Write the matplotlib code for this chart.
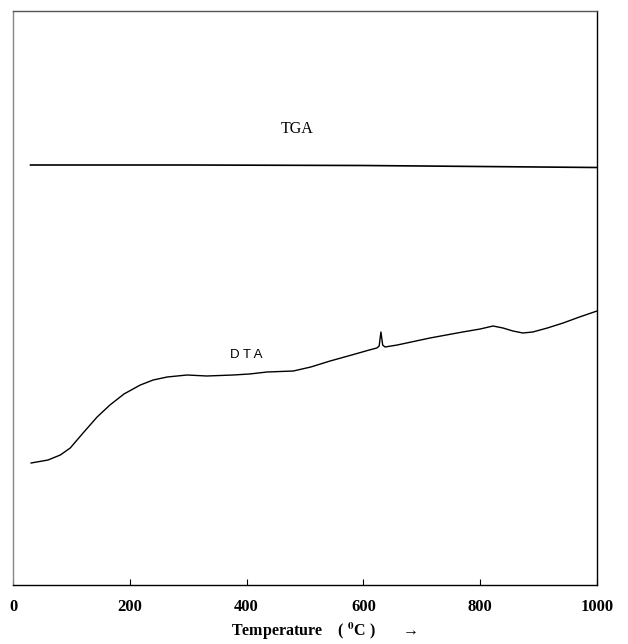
import numpy as np
import matplotlib
matplotlib.use("Agg")
from matplotlib import pyplot as plt

plt.rcParams['font.family'] = ['Liberation Serif', 'DejaVu Serif']
plt.rcParams['mathtext.fontset'] = 'stix'

# TGA trace (temperature in C, signal in arbitrary units)
tga_temp = [30, 300, 600, 800, 1000]
tga_val = [420, 420, 419.5, 418.5, 417.5]

# DTA trace
dta_temp = [31, 60, 81, 98, 120, 144, 166, 190, 218, 240, 264, 298, 332, 377,
            405, 435, 480, 510, 543, 580, 610, 623, 627, 630, 633, 637,
            658, 714, 770, 800, 822, 839, 856, 873, 890, 915, 942, 970, 1000]
dta_val = [122, 125, 130, 137, 152, 168, 180, 191, 200, 205, 208, 210, 209,
           210, 211, 213, 214, 218, 224, 230, 235, 237, 239, 253, 240, 238,
           240, 247, 253, 256, 259, 257, 254, 252, 253, 257, 262, 268, 274]

fig = plt.figure(figsize=(6.28, 6.44), dpi=100)
ax = fig.add_axes([13 / 628, 59 / 644, 584 / 628, 574 / 644])

ax.plot(tga_temp, tga_val, color='black', lw=1.2)
ax.plot(dta_temp, dta_val, color='black', lw=1.0)

ax.text(486, 456, 'TGA', fontsize=11.5, ha='center', va='center')
ax.text(399, 230, 'D T A', family=['Liberation Sans', 'DejaVu Sans'],
        fontsize=9.5, ha='center', va='center')

ax.set_xlim(0, 1000)
ax.set_ylim(0, 574)
ax.set_xticks([0, 200, 400, 600, 800, 1000])
ax.set_yticks([])
ax.tick_params(axis='x', direction='in', length=4, width=0.8, pad=10,
               labelsize=12)
for lab in ax.get_xticklabels():
    lab.set_fontweight('bold')

ax.spines['left'].set_color('#888888')
ax.spines['top'].set_color('#555555')
for s in ax.spines.values():
    s.set_linewidth(1.0)

ax.set_xlabel(r'Temperature    ( $^{\mathbf{0}}$C )       →', fontsize=11.5,
              fontweight='bold', labelpad=4, x=(324 - 13) / 584)

fig.savefig('out.png', dpi=100)
plt.close(fig)
